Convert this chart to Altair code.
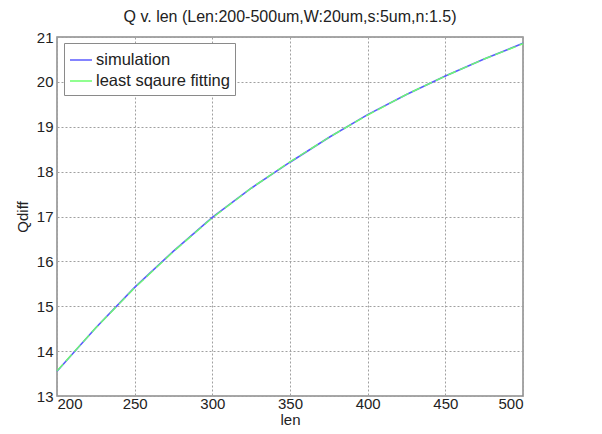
import altair as alt
import pandas as pd

lens = [200, 225, 250, 275, 300, 325, 350, 375, 400, 425, 450, 475, 500]
q_sim = [13.55, 14.52, 15.42, 16.23, 16.98, 17.63, 18.21, 18.76, 19.27, 19.72, 20.13, 20.51, 20.86]
q_fit = [13.56, 14.52, 15.41, 16.22, 16.97, 17.63, 18.22, 18.76, 19.26, 19.72, 20.13, 20.51, 20.85]
series = ["simulation", "least sqaure fitting"]
colors = ["#5b5bff", "#6cff6c"]

df_sim = pd.DataFrame({"len": lens, "Q": q_sim, "series": series[0]})
df_fit = pd.DataFrame({"len": lens, "Q": q_fit, "series": series[1]})

FONT = "Liberation Sans"
FS = 15

x = alt.X("len:Q", scale=alt.Scale(domain=[200, 500], nice=False),
          axis=alt.Axis(values=[200, 250, 300, 350, 400, 450, 500], title="len",
                        titlePadding=1, labelPadding=0, tickSize=0))
y = alt.Y("Q:Q", scale=alt.Scale(domain=[13, 21], nice=False, zero=False),
          axis=alt.Axis(values=list(range(13, 22)), title="Qdiff",
                        titlePadding=6, labelPadding=4, tickSize=0))
color = alt.Color("series:N", scale=alt.Scale(domain=series, range=colors),
                  legend=alt.Legend(title=None, orient="none", legendX=7, legendY=6,
                                    fillColor="white", strokeColor="#8a8a8a",
                                    padding=5, labelFontSize=16.5, labelFont=FONT,
                                    labelColor="#222222", symbolType="stroke",
                                    symbolSize=484, symbolStrokeWidth=1.5,
                                    rowPadding=0, labelOffset=3))

sim = alt.Chart(df_sim).mark_line(strokeWidth=1.6).encode(x=x, y=y, color=color)
fit = alt.Chart(df_fit).mark_line(strokeWidth=1.4, strokeDash=[9, 4]).encode(x=x, y=y, color=color)

chart = alt.layer(sim, fit).properties(
    width=466, height=359,
    title=alt.TitleParams("Q v. len (Len:200-500um,W:20um,s:5um,n:1.5)",
                          fontSize=16, font=FONT, fontWeight="normal",
                          color="#222222", offset=5),
    autosize=alt.AutoSizeParams(type="none"),
    padding={"left": 49, "top": 29, "right": 70, "bottom": 40},
).configure_view(
    stroke="#8a8a8a", strokeWidth=1.5
).configure_axis(
    labelFont=FONT, titleFont=FONT, labelFontSize=FS, titleFontSize=FS,
    labelColor="#222222", titleColor="#222222", titleFontWeight="normal",
    domain=False, grid=True, gridColor="#a0a0a0", gridDash=[2, 2], gridWidth=1
)

chart.save("out.html", embed_options={"renderer": "svg", "actions": False})
